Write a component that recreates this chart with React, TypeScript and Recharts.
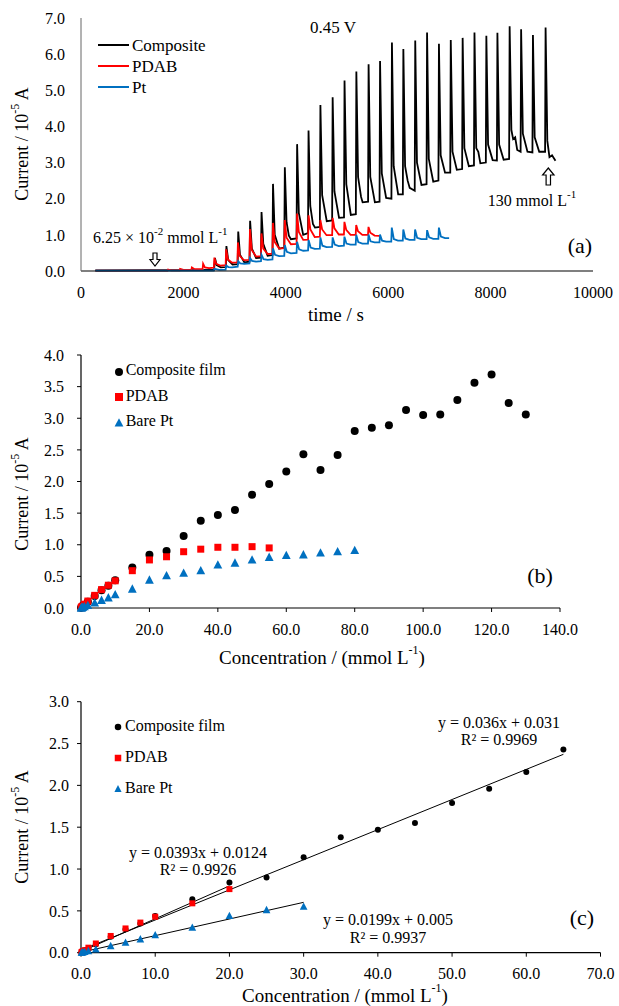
import React from "react";
import { LineChart, Line, XAxis, YAxis, Legend, ComposedChart, Scatter } from "recharts";

const FONT = '"Liberation Serif", "Times New Roman", serif';
const BLACK = "#000000";
const RED = "#FF0000";
const BLUE = "#0070C0";

// ---------- Panel (a): amperometric traces, [time / s, current / 1e-5 A] ----------
const compositeTrace: [number, number][] = [
  [280, 0.02], [2400, 0.03],
  [2600, 0.04], [2616, 0.36], [2650, 0.16], [2730, 0.1],
  [2830, 0.11], [2840, 0.69], [2875, 0.3], [2960, 0.18],
  [3060, 0.19], [3071, 1.09], [3105, 0.45], [3190, 0.24],
  [3292, 0.26], [3303, 1.39], [3337, 0.62], [3420, 0.36],
  [3515, 0.37], [3526, 1.63], [3560, 0.75], [3645, 0.42],
  [3740, 0.44], [3750, 2.41], [3784, 1.0], [3870, 0.62],
  [3970, 0.65], [3981, 2.87], [4015, 1.35], [4060, 0.98], [4100, 0.88],
  [4210, 0.9], [4221, 3.51], [4255, 1.6], [4340, 1.0],
  [4434, 1.05], [4444, 3.89], [4478, 1.8], [4530, 1.3], [4570, 1.2],
  [4665, 1.22], [4676, 4.59], [4710, 2.1], [4800, 1.38],
  [4905, 1.4], [4915, 4.81], [4950, 2.2], [5040, 1.47],
  [5137, 1.48], [5147, 5.27], [5182, 2.4], [5270, 1.55],
  [5368, 1.57], [5378, 5.52], [5412, 2.6], [5470, 2.05], [5500, 1.9],
  [5607, 1.92], [5617, 5.72], [5650, 2.6], [5740, 1.9],
  [5831, 1.92], [5841, 5.81], [5875, 2.7], [5960, 2.02],
  [6063, 2.0], [6073, 6.32], [6107, 2.9], [6195, 2.12],
  [6286, 2.12], [6296, 6.14], [6330, 2.9], [6380, 2.5], [6420, 2.3],
  [6518, 2.22], [6528, 6.38], [6562, 3.0], [6650, 2.38],
  [6749, 2.4], [6759, 6.6], [6793, 3.1], [6880, 2.47],
  [6981, 2.5], [6991, 6.29], [7025, 3.2], [7110, 2.72],
  [7212, 2.72], [7222, 6.39], [7256, 3.3], [7340, 2.8],
  [7444, 2.82], [7454, 6.45], [7488, 3.4], [7575, 2.9],
  [7675, 2.92], [7685, 6.6], [7720, 3.4], [7760, 3.3], [7800, 2.98],
  [7907, 3.0], [7917, 6.51], [7951, 3.5], [8040, 3.07],
  [8123, 3.06], [8133, 6.59], [8167, 3.5], [8255, 3.08],
  [8362, 3.1], [8372, 6.77], [8406, 3.9], [8440, 3.65], [8480, 3.7], [8520, 3.35],
  [8586, 3.3], [8596, 6.69], [8630, 3.8], [8720, 3.3],
  [8817, 3.28], [8827, 6.53], [8861, 3.7], [8950, 3.3],
  [9064, 3.3], [9074, 6.74], [9108, 3.6], [9150, 3.15], [9200, 3.2], [9267, 3.05],
];

const pdabTrace: [number, number][] = [
  [280, 0.01], [1690, 0.01], [1700, 0.04], [1760, 0.02],
  [1925, 0.02], [1935, 0.06], [2000, 0.03],
  [2155, 0.03], [2165, 0.1], [2220, 0.05],
  [2375, 0.05], [2385, 0.2], [2420, 0.1], [2500, 0.08],
  [2595, 0.09], [2605, 0.37], [2640, 0.2], [2720, 0.15],
  [2825, 0.16], [2835, 0.6], [2870, 0.32], [2950, 0.23],
  [3055, 0.24], [3065, 0.79], [3100, 0.42], [3180, 0.3],
  [3290, 0.31], [3300, 1.16], [3335, 0.58], [3420, 0.4],
  [3515, 0.41], [3525, 1.04], [3560, 0.62], [3645, 0.47],
  [3740, 0.48], [3750, 1.33], [3785, 0.8], [3870, 0.62],
  [3970, 0.63], [3980, 1.41], [4015, 0.92], [4100, 0.74],
  [4210, 0.75], [4220, 1.59], [4255, 1.08], [4340, 0.86],
  [4435, 0.87], [4445, 1.54], [4480, 1.15], [4565, 0.94],
  [4665, 0.95], [4675, 1.41], [4710, 1.15], [4795, 0.99],
  [4905, 0.99], [4915, 1.47], [4950, 1.18], [5035, 1.01],
  [5135, 1.01], [5145, 1.36], [5180, 1.14], [5265, 1.0],
  [5365, 1.0], [5375, 1.27], [5410, 1.1], [5495, 1.0],
  [5605, 1.0], [5615, 1.22], [5650, 1.06], [5735, 0.98], [5830, 0.97],
];

const ptTrace: [number, number][] = [
  [280, 0.01], [2550, 0.01],
  [2595, 0.01], [2605, 0.06], [2700, 0.03],
  [2825, 0.04], [2835, 0.15], [2880, 0.11], [2950, 0.1],
  [3060, 0.12], [3070, 0.27], [3110, 0.21], [3190, 0.2],
  [3290, 0.21], [3300, 0.36], [3340, 0.28], [3420, 0.26],
  [3515, 0.27], [3525, 0.45], [3565, 0.33], [3645, 0.31],
  [3740, 0.32], [3750, 0.63], [3790, 0.45], [3870, 0.41],
  [3970, 0.42], [3980, 0.72], [4020, 0.53], [4100, 0.49],
  [4210, 0.5], [4220, 0.81], [4260, 0.6], [4340, 0.56],
  [4435, 0.57], [4445, 0.86], [4485, 0.65], [4565, 0.61],
  [4665, 0.62], [4675, 0.93], [4715, 0.7], [4795, 0.66],
  [4905, 0.67], [4915, 0.93], [4955, 0.73], [5035, 0.69],
  [5135, 0.7], [5145, 0.95], [5185, 0.76], [5265, 0.73],
  [5365, 0.73], [5375, 1.0], [5415, 0.8], [5495, 0.76],
  [5605, 0.76], [5615, 1.01], [5655, 0.82], [5735, 0.79],
  [5830, 0.79], [5840, 1.01], [5880, 0.84], [5960, 0.81],
  [6060, 0.81], [6070, 1.2], [6110, 0.88], [6190, 0.84],
  [6285, 0.84], [6295, 1.15], [6335, 0.9], [6415, 0.86],
  [6515, 0.86], [6525, 1.15], [6565, 0.92], [6645, 0.88],
  [6750, 0.88], [6760, 1.13], [6800, 0.93], [6880, 0.89],
  [6980, 0.89], [6990, 1.2], [7030, 0.95], [7110, 0.91], [7190, 0.91],
];

const timeTicks = [0, 2000, 4000, 6000, 8000, 10000];
const currentTicksA = [0, 1, 2, 3, 4, 5, 6, 7];

// ---------- Panel (b): calibration points, [concentration / mmol L-1, current / 1e-5 A] ----------
const compositePoints: [number, number][] = [
  [0.0625, 0.005], [0.125, 0.01], [0.25, 0.02], [0.5, 0.03], [1, 0.05], [2, 0.1],
  [4, 0.19], [6, 0.28], [8, 0.35], [10, 0.44], [15, 0.64], [20, 0.84], [25, 0.9],
  [30, 1.14], [35, 1.38], [40, 1.47], [45, 1.55], [50, 1.79], [55, 1.96], [60, 2.16],
  [65, 2.43], [70, 2.18], [75, 2.42], [80, 2.8], [85, 2.85], [90, 2.89], [95, 3.13],
  [100, 3.05], [105, 3.06], [110, 3.29], [115, 3.56], [120, 3.69], [125, 3.24], [130, 3.06],
];
const pdabPoints: [number, number][] = [
  [0.0625, 0.005], [0.125, 0.01], [0.25, 0.02], [0.5, 0.03], [1, 0.06], [2, 0.11],
  [4, 0.2], [6, 0.29], [8, 0.36], [10, 0.43], [15, 0.59], [20, 0.76], [25, 0.81],
  [30, 0.89], [35, 0.93], [40, 0.96], [45, 0.96], [50, 0.97], [55, 0.95],
];
const ptPoints: [number, number][] = [
  [0.0625, 0.0], [0.125, 0.0], [0.25, 0.005], [0.5, 0.01], [1, 0.02], [2, 0.04],
  [4, 0.08], [6, 0.12], [8, 0.16], [10, 0.21], [15, 0.3], [20, 0.44], [25, 0.51],
  [30, 0.55], [35, 0.59], [40, 0.68], [45, 0.71], [50, 0.76], [55, 0.8], [60, 0.83],
  [65, 0.84], [70, 0.87], [75, 0.89], [80, 0.91],
];
const concTicksB = [0, 20, 40, 60, 80, 100, 120, 140];
const currentTicksB = [0, 0.5, 1, 1.5, 2, 2.5, 3, 3.5, 4];

// ---------- Panel (c): linear ranges and fitted lines ----------
const compositeLinearMax = 65;
const pdabLinearMax = 20;
const ptLinearMax = 30;
const compositeFit: [number, number][] = [[0, 0.031], [65, 2.371]];
const pdabFit: [number, number][] = [[0, 0.0124], [20, 0.7984]];
const ptFit: [number, number][] = [[0, 0.005], [30, 0.602]];
const concTicksC = [0, 10, 20, 30, 40, 50, 60, 70];
const currentTicksC = [0, 0.5, 1, 1.5, 2, 2.5, 3];

const legendOrder = ["Composite film", "PDAB", "Bare Pt"];

const toTI = (arr: [number, number][]) => arr.map(([t, i]) => ({ t, i }));
const toXY = (arr: [number, number][]) => arr.map(([x, y]) => ({ x, y }));

const tickStyle = { fill: "#000", fontSize: 16, fontFamily: FONT };
const fmt1 = (v: number) => v.toFixed(1);

const circleShape = (r: number) => (p: any) => <circle cx={p.cx} cy={p.cy} r={r} fill={BLACK} />;
const squareShape = (s: number) => (p: any) => (
  <rect x={p.cx - s / 2} y={p.cy - s / 2} width={s} height={s} fill={RED} />
);
const triangleShape = (s: number) => (p: any) => (
  <polygon
    points={`${p.cx},${p.cy - s * 0.6} ${p.cx - s * 0.55},${p.cy + s * 0.45} ${p.cx + s * 0.55},${p.cy + s * 0.45}`}
    fill={BLUE}
  />
);

const markerSvg = (kind: string, size: number) => {
  const w = 12;
  if (kind === "circle")
    return (
      <svg width={w} height={w}>
        <circle cx={w / 2} cy={w / 2} r={size / 2} fill={BLACK} />
      </svg>
    );
  if (kind === "square")
    return (
      <svg width={w} height={w}>
        <rect x={(w - size) / 2} y={(w - size) / 2} width={size} height={size} fill={RED} />
      </svg>
    );
  return (
    <svg width={w} height={w}>
      <polygon
        points={`${w / 2},${w / 2 - size * 0.6} ${w / 2 - size * 0.55},${w / 2 + size * 0.45} ${w / 2 + size * 0.55},${w / 2 + size * 0.45}`}
        fill={BLUE}
      />
    </svg>
  );
};

const markerKind: Record<string, string> = {
  "Composite film": "circle",
  PDAB: "square",
  "Bare Pt": "triangle",
};

const LineLegend = (props: any) => {
  const items = (props.payload || []).filter((e: any) => e.type !== "none");
  return (
    <div style={{ fontFamily: FONT, fontSize: 17, color: "#000" }}>
      {items.map((e: any) => (
        <div key={e.value} style={{ display: "flex", alignItems: "center", height: 21 }}>
          <svg width={31} height={4} style={{ marginRight: 3 }}>
            <line x1={0} y1={2} x2={31} y2={2} stroke={e.color} strokeWidth={2} />
          </svg>
          <span style={{ lineHeight: "21px" }}>{e.value}</span>
        </div>
      ))}
    </div>
  );
};

const makeMarkerLegend = (rowH: number, size: number) => (props: any) => {
  const items = (props.payload || [])
    .filter((e: any) => e.type !== "none" && markerKind[e.value])
    .slice()
    .sort((a: any, b: any) => legendOrder.indexOf(a.value) - legendOrder.indexOf(b.value));
  return (
    <div style={{ fontFamily: FONT, fontSize: 16, color: "#000" }}>
      {items.map((e: any) => (
        <div key={e.value} style={{ display: "flex", alignItems: "center", height: rowH }}>
          <span style={{ display: "inline-block", width: 12, height: 12, marginRight: 1 }}>
            {markerSvg(markerKind[e.value], size)}
          </span>
          <span style={{ lineHeight: rowH + "px" }}>{e.value}</span>
        </div>
      ))}
    </div>
  );
};

const CurrentTitle = ({ x, y }: { x: number; y: number }) => (
  <text
    transform={`translate(${x},${y}) rotate(-90)`}
    textAnchor="middle"
    dominantBaseline="central"
    fontSize={18}
    fontFamily={FONT}
    fill="#000"
  >
    Current / 10
    <tspan dy={-7} fontSize={12}>
      -5
    </tspan>
    <tspan dy={7}> A</tspan>
  </text>
);

const ConcTitle = ({ x, y }: { x: number; y: number }) => (
  <text x={x} y={y} textAnchor="middle" dominantBaseline="central" fontSize={19} fontFamily={FONT} fill="#000">
    Concentration / (mmol L
    <tspan dy={-7} fontSize={12}>
      -1
    </tspan>
    <tspan dy={7}>)</tspan>
  </text>
);

const Overlay = () => (
  <svg
    width={619}
    height={1006}
    style={{ position: "absolute", left: 0, top: 0, pointerEvents: "none" }}
    fontFamily={FONT}
  >
    {/* panel (a) */}
    <CurrentTitle x={22} y={144} />
    <text x={336} y={314} textAnchor="middle" dominantBaseline="central" fontSize={19} fill="#000">
      time / s
    </text>
    <text x={333} y={27} textAnchor="middle" dominantBaseline="central" fontSize={17} fill="#000">
      0.45 V
    </text>
    <text x={93} y={237} dominantBaseline="central" fontSize={16} fill="#000">
      6.25 × 10
      <tspan dy={-6} fontSize={11}>
        -2
      </tspan>
      <tspan dy={6}> mmol L</tspan>
      <tspan dy={-6} fontSize={11}>
        -1
      </tspan>
    </text>
    <polygon
      points="153,253 157,253 157,259.5 160,259.5 155,266 150,259.5 153,259.5"
      fill="#fff"
      stroke="#000"
      strokeWidth={1.2}
    />
    <text x={532} y={200} textAnchor="middle" dominantBaseline="central" fontSize={16} fill="#000">
      130 mmol L
      <tspan dy={-6} fontSize={11}>
        -1
      </tspan>
    </text>
    <polygon
      points="548.3,168 554,175 550.5,175 550.5,185 546.1,185 546.1,175 542.6,175"
      fill="#fff"
      stroke="#000"
      strokeWidth={1.2}
    />
    <text x={580} y={245} textAnchor="middle" dominantBaseline="central" fontSize={22} fill="#000">
      (a)
    </text>

    {/* panel (b) */}
    <CurrentTitle x={22} y={494} />
    <ConcTitle x={322} y={657} />
    <text x={540} y={575} textAnchor="middle" dominantBaseline="central" fontSize={22} fill="#000">
      (b)
    </text>

    {/* panel (c) */}
    <CurrentTitle x={22} y={827} />
    <ConcTitle x={345} y={995} />
    <text x={499} y={722} textAnchor="middle" dominantBaseline="central" fontSize={16} fill="#000">
      y = 0.036x + 0.031
    </text>
    <text x={499} y={739} textAnchor="middle" dominantBaseline="central" fontSize={16} fill="#000">
      R² = 0.9969
    </text>
    <text x={198} y={852} textAnchor="middle" dominantBaseline="central" fontSize={16} fill="#000">
      y = 0.0393x + 0.0124
    </text>
    <text x={198} y={869} textAnchor="middle" dominantBaseline="central" fontSize={16} fill="#000">
      R² = 0.9926
    </text>
    <text x={388} y={919} textAnchor="middle" dominantBaseline="central" fontSize={16} fill="#000">
      y = 0.0199x + 0.005
    </text>
    <text x={388} y={937} textAnchor="middle" dominantBaseline="central" fontSize={16} fill="#000">
      R² = 0.9937
    </text>
    <text x={582} y={917} textAnchor="middle" dominantBaseline="central" fontSize={22} fill="#000">
      (c)
    </text>
  </svg>
);

const ChartA = () => (
  <LineChart width={619} height={330} margin={{ top: 18, right: 26, bottom: 29, left: 21 }} style={{ fontFamily: FONT }}>
    <XAxis
      type="number"
      dataKey="t"
      domain={[0, 10000]}
      ticks={timeTicks}
      interval={0}
      height={30}
      tick={tickStyle}
      tickLine={false}
      tickSize={0}
      tickMargin={16}
      axisLine={{ stroke: "#000", strokeWidth: 1.2 }}
    />
    <YAxis
      type="number"
      dataKey="i"
      domain={[0, 7]}
      ticks={currentTicksA}
      interval={0}
      width={60}
      tickFormatter={fmt1}
      tick={tickStyle}
      tickLine={false}
      tickSize={0}
      tickMargin={16}
      axisLine={{ stroke: "#666", strokeWidth: 1 }}
    />
    <Legend
      layout="vertical"
      align="center"
      verticalAlign="middle"
      content={LineLegend}
      wrapperStyle={{ top: 34.5, left: 98, width: "auto", right: "auto", bottom: "auto" }}
    />
    <Line name="Composite" data={toTI(compositeTrace)} dataKey="i" stroke={BLACK} strokeWidth={1.8} dot={false} activeDot={false} isAnimationActive={false} />
    <Line name="PDAB" data={toTI(pdabTrace)} dataKey="i" stroke={RED} strokeWidth={1.8} dot={false} activeDot={false} isAnimationActive={false} />
    <Line name="Pt" data={toTI(ptTrace)} dataKey="i" stroke={BLUE} strokeWidth={1.8} dot={false} activeDot={false} isAnimationActive={false} />
  </LineChart>
);

const ChartB = () => (
  <ComposedChart width={619} height={340} margin={{ top: 25, right: 59, bottom: 32, left: 21 }} style={{ fontFamily: FONT }}>
    <XAxis
      type="number"
      dataKey="x"
      domain={[0, 140]}
      ticks={concTicksB}
      interval={0}
      height={30}
      tickFormatter={fmt1}
      tick={tickStyle}
      tickLine={{ stroke: "#000" }}
      tickSize={4}
      tickMargin={12}
      axisLine={{ stroke: "#000", strokeWidth: 1.2 }}
    />
    <YAxis
      type="number"
      dataKey="y"
      domain={[0, 4]}
      ticks={currentTicksB}
      interval={0}
      width={60}
      tickFormatter={fmt1}
      tick={tickStyle}
      tickLine={{ stroke: "#000" }}
      tickSize={4}
      tickMargin={13}
      axisLine={{ stroke: "#000", strokeWidth: 1.2 }}
    />
    <Legend
      layout="vertical"
      align="center"
      verticalAlign="middle"
      content={makeMarkerLegend(25.5, 8)}
      wrapperStyle={{ top: 27, left: 112.7, width: "auto", right: "auto", bottom: "auto" }}
    />
    <Scatter name="Composite film" data={toXY(compositePoints)} dataKey="y" fill={BLACK} shape={circleShape(4)} isAnimationActive={false} />
    <Scatter name="PDAB" data={toXY(pdabPoints)} dataKey="y" fill={RED} shape={squareShape(7)} isAnimationActive={false} />
    <Scatter name="Bare Pt" data={toXY(ptPoints)} dataKey="y" fill={BLUE} shape={triangleShape(8)} isAnimationActive={false} />
  </ComposedChart>
);

const ChartC = () => (
  <ComposedChart width={619} height={336} margin={{ top: 31.7, right: 18.5, bottom: 23.3, left: 21 }} style={{ fontFamily: FONT }}>
    <XAxis
      type="number"
      dataKey="x"
      domain={[0, 70]}
      ticks={concTicksC}
      interval={0}
      height={30}
      tickFormatter={fmt1}
      tick={tickStyle}
      tickLine={{ stroke: "#000" }}
      tickSize={4}
      tickMargin={11}
      axisLine={{ stroke: "#000", strokeWidth: 1.2 }}
    />
    <YAxis
      type="number"
      dataKey="y"
      domain={[0, 3]}
      ticks={currentTicksC}
      interval={0}
      width={60}
      tickFormatter={fmt1}
      tick={tickStyle}
      tickLine={{ stroke: "#000" }}
      tickSize={4}
      tickMargin={8}
      axisLine={{ stroke: "#000", strokeWidth: 1.2 }}
    />
    <Legend
      layout="vertical"
      align="center"
      verticalAlign="middle"
      content={makeMarkerLegend(31, 6.5)}
      wrapperStyle={{ top: 39.5, left: 112, width: "auto", right: "auto", bottom: "auto" }}
    />
    <Scatter name="Composite film" data={toXY(compositePoints.filter(([x]) => x <= compositeLinearMax))} dataKey="y" fill={BLACK} shape={circleShape(3)} isAnimationActive={false} />
    <Scatter name="PDAB" data={toXY(pdabPoints.filter(([x]) => x <= pdabLinearMax))} dataKey="y" fill={RED} shape={squareShape(6)} isAnimationActive={false} />
    <Scatter name="Bare Pt" data={toXY(ptPoints.filter(([x]) => x <= ptLinearMax))} dataKey="y" fill={BLUE} shape={triangleShape(7)} isAnimationActive={false} />
    <Line name="fitComposite" legendType="none" data={toXY(compositeFit)} dataKey="y" stroke={BLACK} strokeWidth={1} dot={false} activeDot={false} isAnimationActive={false} />
    <Line name="fitPDAB" legendType="none" data={toXY(pdabFit)} dataKey="y" stroke={BLACK} strokeWidth={1} dot={false} activeDot={false} isAnimationActive={false} />
    <Line name="fitPt" legendType="none" data={toXY(ptFit)} dataKey="y" stroke={BLACK} strokeWidth={1} dot={false} activeDot={false} isAnimationActive={false} />
  </ComposedChart>
);

export default function App() {
  return (
    <div style={{ position: "absolute", left: 0, top: 0, width: 619, height: 1006, background: "#fff", overflow: "hidden" }}>
      <div style={{ position: "absolute", left: 0, top: 0 }}>
        <ChartA />
      </div>
      <div style={{ position: "absolute", left: 0, top: 330 }}>
        <ChartB />
      </div>
      <div style={{ position: "absolute", left: 0, top: 670 }}>
        <ChartC />
      </div>
      <Overlay />
    </div>
  );
}
